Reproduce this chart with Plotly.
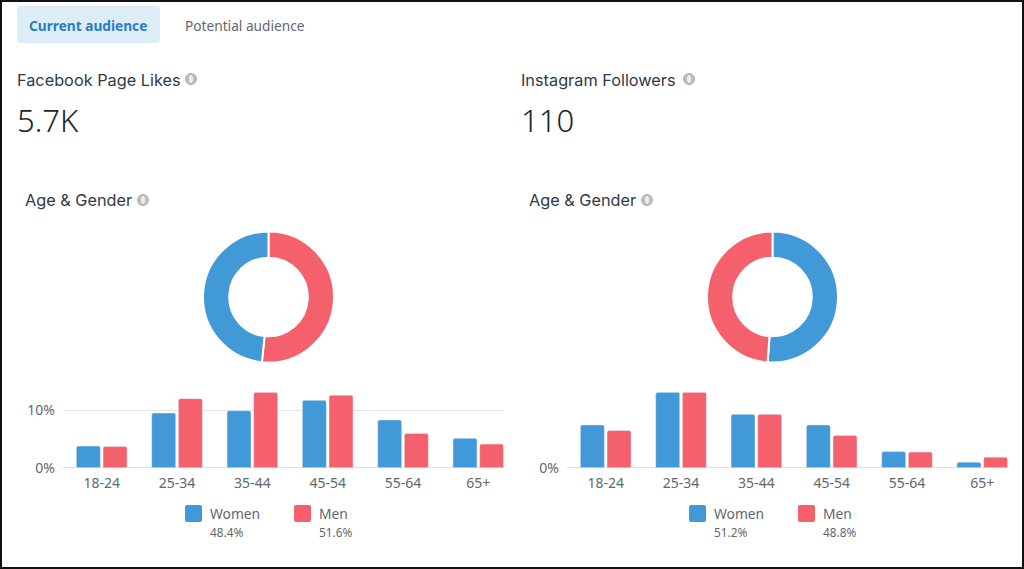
import plotly.graph_objects as go

AGE = ["18-24", "25-34", "35-44", "45-54", "55-64", "65+"]
FB_WOMEN = [3.76, 9.5, 9.9, 11.7, 8.3, 5.1]
FB_MEN = [3.7, 12.0, 13.1, 12.6, 5.95, 4.1]
IG_WOMEN = [9.3, 16.4, 11.6, 9.3, 3.5, 1.2]
IG_MEN = [8.1, 16.4, 11.6, 7.0, 3.4, 2.3]
FB_SHARE = {"Men": 51.6, "Women": 48.4}
IG_SHARE = {"Women": 51.2, "Men": 48.8}
BLUE = "#4299D7"
RED = "#F4606B"
INK = "#2F3A45"
DARK = "#1A2530"
GREY = "#5F6770"
FONT = "Noto Sans"
HEAD = "Inter"
W, H = 1024, 569


def px(x):
    return x / W


def py(y):
    return 1 - y / H


fig = go.Figure()

panels = [
    dict(off=0, women=FB_WOMEN, men=FB_MEN, share=FB_SHARE, top=13.1, ax=""),
    dict(off=504, women=IG_WOMEN, men=IG_MEN, share=IG_SHARE, top=16.4, ax="2"),
]
layout_axes = {}
shapes = []
annos = []


def text(x, y, s, size, color=INK, anchor="left", weight=None, family=FONT):
    annos.append(dict(x=px(x), y=py(y), xref="paper", yref="paper", text=s, showarrow=False,
                      xanchor=anchor, yanchor="middle", align=anchor, borderpad=0, borderwidth=0,
                      xshift=0,
                      font=dict(family=family, size=size, color=color, weight=weight)))


def round_rect(x0, y0, x1, y1, r, color):
    d = (f"M{px(x0 + r)},{py(y0)} L{px(x1 - r)},{py(y0)} Q{px(x1)},{py(y0)} {px(x1)},{py(y0 + r)} "
         f"L{px(x1)},{py(y1 - r)} Q{px(x1)},{py(y1)} {px(x1 - r)},{py(y1)} "
         f"L{px(x0 + r)},{py(y1)} Q{px(x0)},{py(y1)} {px(x0)},{py(y1 - r)} "
         f"L{px(x0)},{py(y0 + r)} Q{px(x0)},{py(y0)} {px(x0 + r)},{py(y0)} Z")
    shapes.append(dict(type="path", xref="paper", yref="paper", path=d, fillcolor=color, line=dict(width=0)))


def info(x, y):
    shapes.append(dict(type="circle", xref="paper", yref="paper", x0=px(x - 5.5), x1=px(x + 5.5),
                       y0=py(y - 5.5), y1=py(y + 5.5), fillcolor="#BDBDBD", line=dict(color="#B0B0B0", width=1)))
    shapes.append(dict(type="circle", xref="paper", yref="paper", x0=px(x - 2), x1=px(x + 2),
                       y0=py(y - 4), y1=py(y + 4), fillcolor="#EDEDED", line=dict(width=0)))


for i, p in enumerate(panels):
    o = p["off"]
    ax = p["ax"]
    left, right = 63 + o, 503.5 + o
    fig.add_trace(go.Bar(x=AGE, y=p["women"], name="Women", marker=dict(color=BLUE, cornerradius=2),
                         xaxis="x" + ax, yaxis="y" + ax, showlegend=False))
    fig.add_trace(go.Bar(x=AGE, y=p["men"], name="Men", marker=dict(color=RED, cornerradius=2),
                         xaxis="x" + ax, yaxis="y" + ax, showlegend=False))
    layout_axes["xaxis" + ax] = dict(
        domain=[px(left), px(right)], type="category", range=[-0.514, 5.334], anchor="y" + ax,
        showgrid=False, zeroline=False, showline=False, ticks="",
        tickfont=dict(family=FONT, size=14, color=GREY), ticklabelstandoff=5)
    layout_axes["yaxis" + ax] = dict(
        domain=[py(467.7), py(392.3)], range=[0, p["top"]], anchor="x" + ax,
        tickvals=[0, 10] if i == 0 else [0], ticktext=["0%", "10%"] if i == 0 else ["0%"],
        showgrid=True, gridcolor="#E2E4E8", gridwidth=1, zeroline=True, zerolinecolor="#DCDFE3",
        zerolinewidth=1, ticks="", showline=False, ticklabelstandoff=7,
        tickfont=dict(family=FONT, size=14, color=GREY))
    cx = 268.5 + o
    fig.add_trace(go.Pie(labels=list(p["share"].keys()), values=list(p["share"].values()), sort=False,
                         direction="clockwise", rotation=0, hole=0.6, textinfo="none", showlegend=False,
                         marker=dict(colors=[RED if k == "Men" else BLUE for k in p["share"]],
                                     line=dict(color="white", width=2)),
                         domain=dict(x=[px(cx - 65.5), px(cx + 65.5)], y=[py(362.5), py(231.5)])))
    for name, sx in (("Women", 185), ("Men", 294)):
        round_rect(sx + o, 505, sx + 17 + o, 522, 2, BLUE if name == "Women" else RED)
        text(sx + 25 + o, 513, name, 13.8, GREY)
        text(sx + 25 + o, 532, f'{p["share"][name]}%', 11.8, GREY)
    text(25 + o, 200.5, "Age &amp; Gender", 16.3, family=HEAD)
    info(143 + o, 200)

round_rect(17, 6, 160, 43, 4, "#DDEDF8")
text(88, 25.5, "Current audience", 13.7, "#2A7DBF", "center", 700)
text(244.5, 25.5, "Potential audience", 13.7, GREY, "center")
text(17, 79.5, "Facebook Page Likes", 16.3, family=HEAD)
info(191, 79)
text(17, 120.5, "5.7K", 31, DARK, weight=300)
text(521, 79.5, "Instagram Followers", 16.3, family=HEAD)
info(689, 79)
text(521, 120.5, "110", 31, DARK, weight=300)

shapes.append(dict(type="rect", xref="paper", yref="paper", x0=0, x1=1, y0=0, y1=1,
                   fillcolor="rgba(0,0,0,0)", line=dict(color="#111111", width=4)))

fig.update_layout(width=W, height=H, margin=dict(l=0, r=0, t=0, b=0, autoexpand=False),
                  paper_bgcolor="white", plot_bgcolor="white", barmode="group",
                  bargap=0.292, bargroupgap=0.1, shapes=shapes, annotations=annos, **layout_axes)
fig.write_html("out.html", config=dict(displayModeBar=False),
               post_script="document.body.style.margin='0';document.body.style.overflow='hidden';")
